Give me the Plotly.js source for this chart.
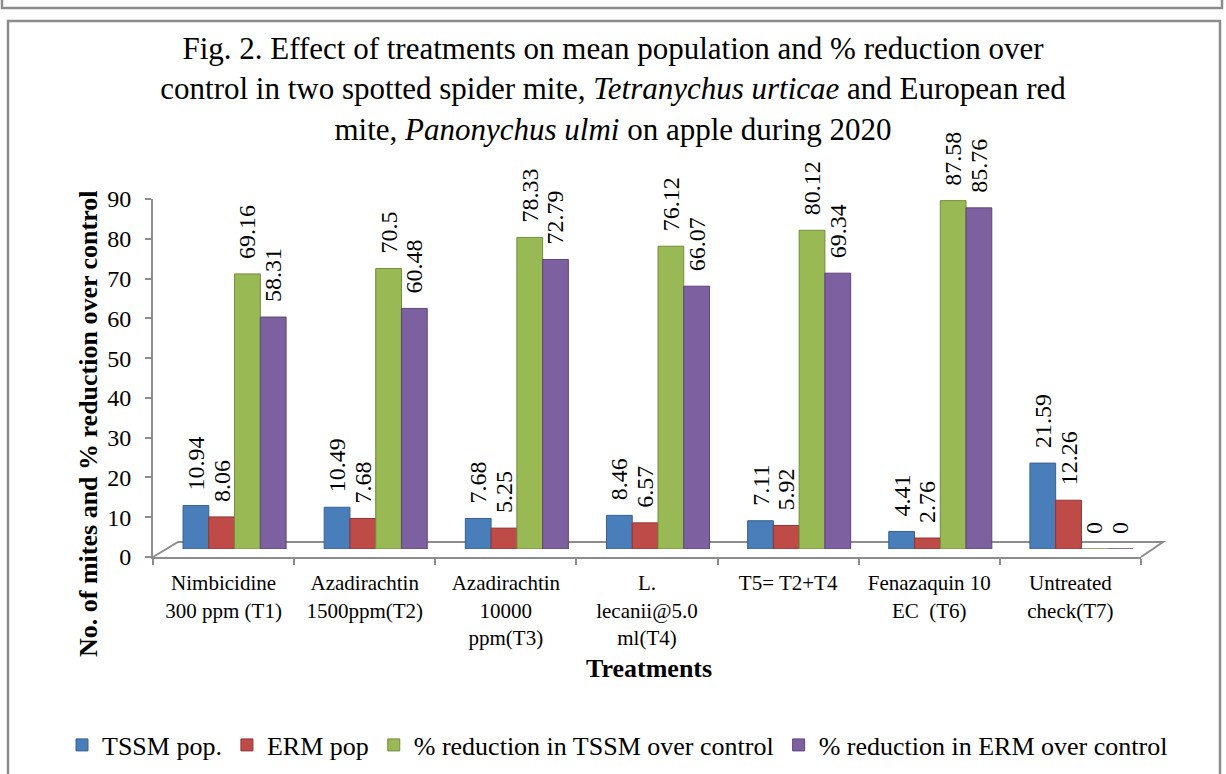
<!DOCTYPE html>
<html>
<head>
<meta charset="utf-8">
<script src="https://cdn.plot.ly/plotly-3.0.1.min.js"></script>
<style>
  html, body { margin: 0; padding: 0; background: #fff; overflow: hidden; }
  #chart { width: 1226px; height: 774px; }
</style>
</head>
<body>
<div id="chart"></div>
<script>
// Treatments (category labels, line-broken as printed under the axis)
const treatments = [
  "Nimbicidine<br>300 ppm (T1)",
  "Azadirachtin<br>1500ppm(T2)",
  "Azadirachtin<br>10000<br>ppm(T3)",
  "L.<br>lecanii@5.0<br>ml(T4)",
  "T5= T2+T4",
  "Fenazaquin 10<br>EC  (T6)",
  "Untreated<br>check(T7)"
];

// Series values
const tssmPop = [10.94, 10.49, 7.68, 8.46, 7.11, 4.41, 21.59];
const ermPop = [8.06, 7.68, 5.25, 6.57, 5.92, 2.76, 12.26];
const tssmReduction = [69.16, 70.5, 78.33, 76.12, 80.12, 87.58, 0];
const ermReduction = [58.31, 60.48, 72.79, 66.07, 69.34, 85.76, 0];

const seriesNames = ["TSSM pop.", "ERM pop", "% reduction in TSSM over control", "% reduction in ERM over control"];
const seriesValues = [tssmPop, ermPop, tssmReduction, ermReduction];
const seriesColors = ["#4A7EBB", "#BE4B48", "#98B954", "#7D60A0"];
const seriesEdges = ["#36608f", "#8f3533", "#728c3f", "#5c4677"];

const yTicks = [0, 10, 20, 30, 40, 50, 60, 70, 80, 90];

// page geometry (pixels)
const W = 1226, H = 774;
const mL = 153, mR = 61, mT = 190, mB = 217;
const plotW = W - mL - mR;          // 1012
const plotH = H - mT - mB;          // 367
const frontW = 988;                 // width of the front (category) axis
const frontH = 358;                 // height of the value axis
const depthX = 11, depthY = 8;      // offset of the bar row into the floor

const px = x => (x - mL) / plotW;     // page x -> paper x
const py = y => (H - mB - y) / plotH; // page y -> paper y

const serif = "Liberation Serif, Times New Roman, serif";
const labelPad = "\u00A0\u00A0"; // small gap between bar top and its rotated value label

const traces = seriesNames.map((name, i) => ({
  type: "bar",
  name: name,
  x: treatments,
  y: seriesValues[i],
  xaxis: "x2",
  yaxis: "y2",
  marker: { color: seriesColors[i], line: { color: seriesEdges[i], width: 1 } },
  text: seriesValues[i].map(v => labelPad + String(v)),
  textposition: "outside",
  textangle: -90,
  constraintext: "none",
  cliponaxis: false,
  textfont: { family: serif, size: 24, color: "#000" },
  hoverinfo: "x+y+name"
}));

// carrier for the front category axis
traces.push({
  type: "scatter",
  x: treatments,
  y: treatments.map(() => 0),
  xaxis: "x",
  yaxis: "y",
  mode: "markers",
  marker: { opacity: 0 },
  showlegend: false,
  hoverinfo: "skip"
});

const grey = "#8c8c8c";

const layout = {
  width: W,
  height: H,
  margin: { l: mL, r: mR, t: mT, b: mB, autoexpand: false },
  paper_bgcolor: "#fff",
  plot_bgcolor: "rgba(0,0,0,0)",
  font: { family: serif, color: "#000", size: 21 },
  title: {
    text: "Fig. 2. Effect of treatments on mean population and % reduction over<br>" +
          "control in two spotted spider mite, <i>Tetranychus urticae</i> and European red<br>" +
          "mite, <i>Panonychus ulmi</i> on apple during 2020",
    font: { family: serif, size: 31, color: "#000" },
    x: 0.5,
    xanchor: "center",
    yref: "container",
    y: 1 - 59 / H,
    yanchor: "top",
    automargin: false
  },
  barmode: "group",
  bargap: 0.27,
  bargroupgap: 0,
  showlegend: true,
  legend: {
    orientation: "h",
    x: px(62),
    xanchor: "left",
    y: py(745),
    yanchor: "middle",
    font: { family: serif, size: 26, color: "#000" },
    itemwidth: 30,
    traceorder: "normal",
    bgcolor: "rgba(0,0,0,0)"
  },
  xaxis: {
    type: "category",
    domain: [0, frontW / plotW],
    anchor: "y",
    range: [-0.5, treatments.length - 0.5],
    tickson: "boundaries",
    ticks: "outside",
    ticklen: 6,
    tickcolor: grey,
    tickwidth: 1.5,
    ticklabelstandoff: 6,
    showline: true,
    linecolor: grey,
    linewidth: 2,
    showgrid: false,
    zeroline: false,
    tickfont: { family: serif, size: 21, color: "#000" },
    automargin: false,
    fixedrange: true
  },
  yaxis: {
    domain: [0, frontH / plotH],
    anchor: "x",
    range: [0, 90],
    tickvals: yTicks,
    ticks: "outside",
    ticklen: 6,
    tickcolor: grey,
    tickwidth: 1.5,
    ticklabelstandoff: 9,
    showline: true,
    linecolor: grey,
    linewidth: 2,
    showgrid: false,
    zeroline: false,
    tickfont: { family: serif, size: 24, color: "#000" },
    automargin: false,
    fixedrange: true
  },
  xaxis2: {
    type: "category",
    domain: [depthX / plotW, (frontW + depthX) / plotW],
    anchor: "y2",
    range: [-0.5, treatments.length - 0.5],
    visible: false,
    fixedrange: true
  },
  yaxis2: {
    domain: [depthY / plotH, (frontH + depthY) / plotH],
    anchor: "x2",
    range: [0, 90],
    visible: false,
    fixedrange: true
  },
  annotations: [
    {
      text: "<b>No. of mites and % reduction over control</b>",
      xref: "paper", yref: "paper",
      x: px(88), y: py(424),
      xanchor: "center", yanchor: "middle",
      textangle: -90,
      showarrow: false,
      font: { family: serif, size: 26, color: "#000" }
    },
    {
      text: "<b>Treatments</b>",
      xref: "paper", yref: "paper",
      x: px(649), y: py(668),
      xanchor: "center", yanchor: "middle",
      showarrow: false,
      font: { family: serif, size: 26, color: "#000" }
    }
  ],
  shapes: [
    // floor of the chart
    {
      type: "path",
      xref: "paper", yref: "paper",
      path: `M ${px(153)} ${py(557)} L ${px(178)} ${py(542)} L ${px(1163)} ${py(542)} L ${px(1141)} ${py(557)}`,
      line: { color: grey, width: 2 },
      layer: "below"
    },
    // outer frame of the figure box
    {
      type: "rect",
      xref: "paper", yref: "paper",
      x0: px(8), x1: px(1220), y0: py(21), y1: py(800),
      line: { color: grey, width: 2.5 },
      layer: "below"
    },
    // bottom edge of the box above
    {
      type: "path",
      xref: "paper", yref: "paper",
      path: `M ${px(2)} ${py(-5)} L ${px(2)} ${py(8)} L ${px(1222)} ${py(8)} L ${px(1222)} ${py(-5)}`,
      line: { color: grey, width: 2.5 },
      layer: "below"
    }
  ]
};

Plotly.newPlot("chart", traces, layout, { displayModeBar: false });
</script>
</body>
</html>
